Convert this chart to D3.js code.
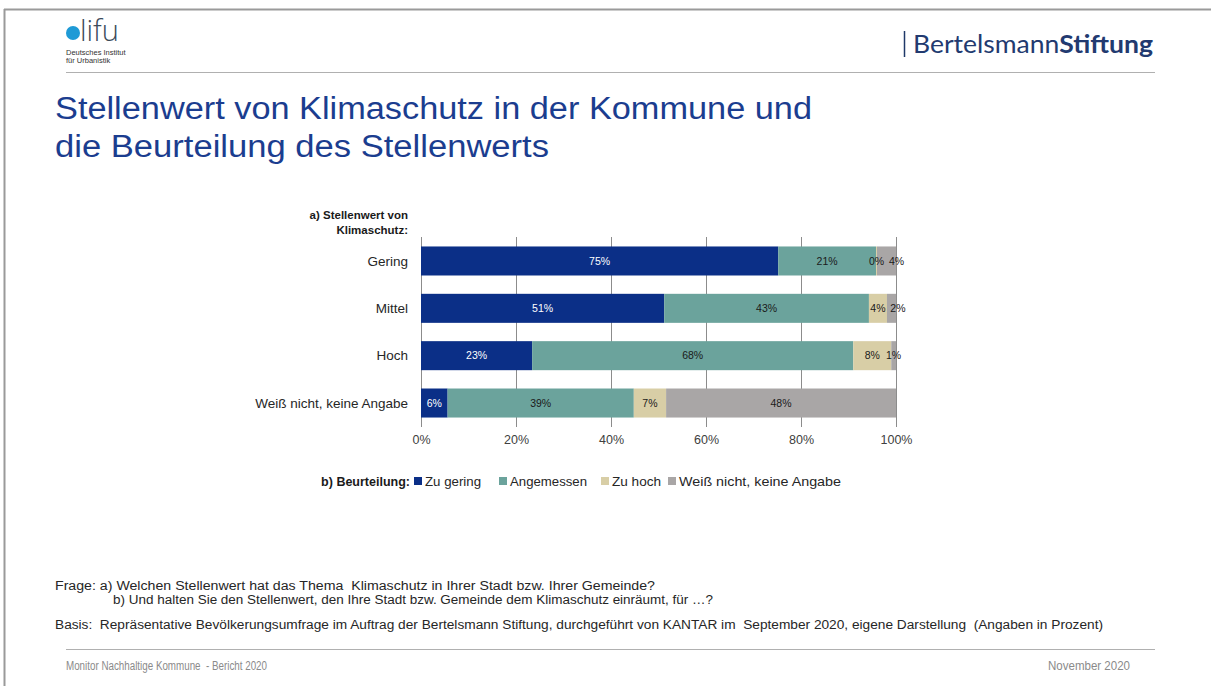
<!DOCTYPE html>
<html>
<head>
<meta charset="utf-8">
<script src="https://cdn.jsdelivr.net/npm/d3@7"></script>
<style>
body { margin: 0; background: #fff; }
svg { display: block; font-family: "Liberation Sans", Arial, sans-serif; }
</style>
</head>
<body>
<div id="chart"></div>
<script>
// data
categories = ["Gering", "Mittel", "Hoch", "Weiß nicht, keine Angabe"]
subgroups = ["Zu gering", "Angemessen", "Zu hoch", "Weiß nicht, keine Angabe"]
zuGering   = [75.2, 51.2, 23.4, 5.6]
angemessen = [20.6, 43.1, 67.6, 39.2]
zuHoch     = [0.2, 3.8, 8.0, 6.8]
weissNicht = [4.0, 1.9, 1.0, 48.4]
xTicks = [0, 20, 40, 60, 80, 100]
color = ["#0b2f87", "#6ba39c", "#d8cea6", "#a9a6a6"]
labelColor = ["#ffffff", "#1a1a1a", "#1a1a1a", "#1a1a1a"]

width = 1211
height = 686
plot = ({top: 237, bottom: 427, left: 421, right: 896})
legendX = [414, 499, 601, 668]
legendTextLen = [56, 77, 49, 162]

var svg = d3.select("#chart").append("svg")
    .attr("width", width)
    .attr("height", height)

// slide frame
svg.append("line").attr("x1", 4).attr("x2", width).attr("y1", 9.5).attr("y2", 9.5)
    .attr("stroke", "#9a9a9a").attr("stroke-width", 2)
svg.append("line").attr("x1", 4.5).attr("x2", 4.5).attr("y1", 9).attr("y2", height)
    .attr("stroke", "#9a9a9a").attr("stroke-width", 2)

// header
svg.append("circle").attr("cx", 73).attr("cy", 33).attr("r", 7).attr("fill", "#1e9ad6")
svg.append("text").attr("x", 80).attr("y", 41).text("lifu")
    .style("font-size", "29px").style("fill", "#3b4a5a").style("font-weight", "300")
    .attr("font-family", "'Open Sans', sans-serif")
svg.append("text").attr("x", 66).attr("y", 55).text("Deutsches Institut")
    .style("font-size", "7.5px").style("fill", "#333")
svg.append("text").attr("x", 66).attr("y", 63).text("für Urbanistik")
    .style("font-size", "7.5px").style("fill", "#333")
svg.append("line").attr("x1", 66).attr("x2", 1155).attr("y1", 72.5).attr("y2", 72.5)
    .attr("stroke", "#b0b0b0").attr("stroke-width", 1)

svg.append("line").attr("x1", 904.5).attr("x2", 904.5).attr("y1", 31).attr("y2", 57)
    .attr("stroke", "#1f3868").attr("stroke-width", 1.5)
const bs = svg.append("text").attr("x", 913).attr("y", 53)
    .style("font-size", "25px").style("fill", "#223a70")
    .attr("font-family", "Lato, 'Open Sans', sans-serif")
    .attr("textLength", 240).attr("lengthAdjust", "spacingAndGlyphs")
bs.append("tspan").text("Bertelsmann")
bs.append("tspan").text("Stiftung").style("font-weight", "bold")

// title
svg.append("text").attr("x", 55).attr("y", 119)
    .text("Stellenwert von Klimaschutz in der Kommune und")
    .attr("textLength", 757).attr("lengthAdjust", "spacingAndGlyphs")
    .style("font-size", "31px").style("fill", "#1b3d8f")
svg.append("text").attr("x", 55).attr("y", 157)
    .text("die Beurteilung des Stellenwerts")
    .attr("textLength", 494).attr("lengthAdjust", "spacingAndGlyphs")
    .style("font-size", "31px").style("fill", "#1b3d8f")

// scales
x = d3.scaleLinear().domain([0, 100]).range([plot.left, plot.right])
y = d3.scaleBand().domain(categories).range([plot.top, plot.bottom])
    .paddingInner(0.387).paddingOuter(0.2)

// gridlines
svg.append("g").selectAll("line").data(xTicks).enter().append("line")
    .attr("x1", d => Math.round(x(d)) + 0.5).attr("x2", d => Math.round(x(d)) + 0.5)
    .attr("y1", plot.top).attr("y2", plot.bottom)
    .attr("stroke", "#8c8c8c").attr("stroke-width", 1)

// x axis labels
const xAxis = d3.axisBottom(x).tickValues(xTicks).tickSize(0).tickPadding(0)
    .tickFormat(d => d + "%")
const gx = svg.append("g").attr("transform", `translate(0,${plot.bottom + 8})`).call(xAxis)
gx.select(".domain").remove()
gx.selectAll("text").style("font-size", "12.5px").style("fill", "#404040")
    .attr("font-family", "'Liberation Sans', Arial, sans-serif")

// stacked bars
source = categories.map((c, i) => ({
    cat: c, 0: zuGering[i], 1: angemessen[i], 2: zuHoch[i], 3: weissNicht[i]
}))
data = d3.stack().keys([0, 1, 2, 3])(source)

const subgroup = svg.selectAll(".subgroup").data(data).enter().append("g")
    .attr("class", "subgroup")
    .attr("fill", (d, i) => color[i])

subgroup.selectAll("rect").data(d => d).enter().append("rect")
    .attr("x", d => x(d[0]))
    .attr("y", d => y(d.data.cat))
    .attr("width", d => x(d[1]) - x(d[0]))
    .attr("height", y.bandwidth())

// value labels, nudged right when a narrow segment would overlap its neighbour
const labels = []
categories.forEach((c, ci) => {
    let prev = -Infinity
    data.forEach((s, si) => {
        const d = s[ci]
        let cx = (x(d[0]) + x(d[1])) / 2
        if (cx < prev + 20) cx = prev + 20
        prev = cx
        labels.push({x: cx, y: y(c) + y.bandwidth() / 2, t: Math.round(d[1] - d[0]) + "%", c: labelColor[si]})
    })
})
svg.append("g").selectAll("text").data(labels).enter().append("text")
    .attr("x", d => d.x).attr("y", d => d.y).attr("dy", "0.35em")
    .attr("text-anchor", "middle")
    .text(d => d.t)
    .style("font-size", "10.5px").style("fill", d => d.c)

// category labels
svg.append("g").selectAll("text").data(categories).enter().append("text")
    .attr("x", 408).attr("y", d => y(d) + y.bandwidth() / 2).attr("dy", "0.35em")
    .attr("text-anchor", "end").text(d => d)
    .style("font-size", "13.5px").style("fill", "#262626")

svg.append("text").attr("x", 408).attr("y", 219).attr("text-anchor", "end")
    .text("a) Stellenwert von").style("font-size", "11.5px").style("font-weight", "bold").style("fill", "#1a1a1a")
svg.append("text").attr("x", 408).attr("y", 234).attr("text-anchor", "end")
    .text("Klimaschutz:").style("font-size", "11.5px").style("font-weight", "bold").style("fill", "#1a1a1a")

// legend
svg.append("text").attr("x", 410).attr("y", 486).attr("text-anchor", "end")
    .text("b) Beurteilung:").style("font-size", "12.5px").style("font-weight", "bold").style("fill", "#1a1a1a")
const entry = svg.append("g").selectAll("g").data(subgroups).enter().append("g")
    .attr("transform", (d, i) => `translate(${legendX[i]},${477})`)
entry.append("rect").attr("width", 8).attr("height", 8).attr("fill", (d, i) => color[i])
entry.append("text").attr("x", 11).attr("y", 4.5).attr("dy", "0.35em").text(d => d)
    .attr("textLength", (d, i) => legendTextLen[i]).attr("lengthAdjust", "spacingAndGlyphs")
    .style("font-size", "13px").style("fill", "#262626")

// notes
const note = (tx, xx, yy, len) => {
    svg.append("text").attr("x", xx).attr("y", yy).text(tx)
        .attr("textLength", len).attr("lengthAdjust", "spacingAndGlyphs")
        .style("white-space", "pre")
        .style("font-size", "12.5px").style("fill", "#262626")
}
note("Frage: a) Welchen Stellenwert hat das Thema  Klimaschutz in Ihrer Stadt bzw. Ihrer Gemeinde?", 55, 590, 600)
note("b) Und halten Sie den Stellenwert, den Ihre Stadt bzw. Gemeinde dem Klimaschutz einräumt, für …?", 113, 604, 600)
note("Basis:  Repräsentative Bevölkerungsumfrage im Auftrag der Bertelsmann Stiftung, durchgeführt von KANTAR im  September 2020, eigene Darstellung  (Angaben in Prozent)", 55, 629, 1048)

svg.append("line").attr("x1", 66).attr("x2", 1155).attr("y1", 649.5).attr("y2", 649.5)
    .attr("stroke", "#b0b0b0").attr("stroke-width", 1)
svg.append("text").attr("x", 66).attr("y", 670).text("Monitor Nachhaltige Kommune  - Bericht 2020")
    .style("white-space", "pre")
    .attr("textLength", 201).attr("lengthAdjust", "spacingAndGlyphs")
    .style("font-size", "12.5px").style("fill", "#8a8a8a")
svg.append("text").attr("x", 1130).attr("y", 670).attr("text-anchor", "end").text("November 2020")
    .attr("textLength", 82).attr("lengthAdjust", "spacingAndGlyphs")
    .style("font-size", "12.5px").style("fill", "#8a8a8a")
</script>
</body>
</html>
